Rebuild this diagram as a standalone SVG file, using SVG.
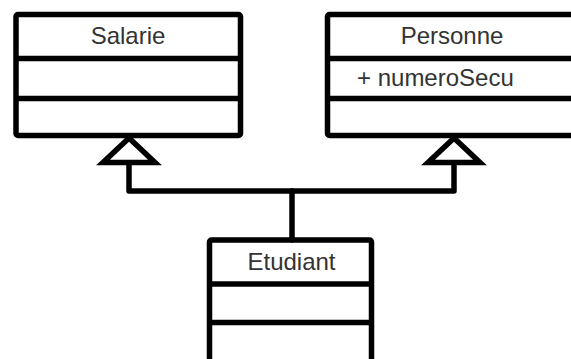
<svg xmlns="http://www.w3.org/2000/svg" width="571" height="359" viewBox="0 0 571 359">
  <style>
    .box { fill: #ffffff; stroke: #000000; stroke-width: 5.5; stroke-linejoin: round; }
    .div { fill: none; stroke: #000000; stroke-width: 5.5; }
    .txt { font-family: "Liberation Sans", Arial, sans-serif; font-size: 24px; fill: #333333; }
    .mid { text-anchor: middle; }
    .conn { fill: none; stroke: #000000; stroke-width: 5.5; stroke-linejoin: round; stroke-linecap: round; }
    .tri { fill: #ffffff; stroke: #000000; stroke-width: 5.5; stroke-linejoin: miter; }
  </style>
  <rect width="571" height="359" fill="#ffffff"/>
  <g id="Salarie">
    <rect class="box" x="16" y="14.5" width="224.5" height="121" rx="2"/>
    <line class="div" x1="16" y1="58.5" x2="240.5" y2="58.5"/>
    <line class="div" x1="16" y1="98.5" x2="240.5" y2="98.5"/>
    <text class="txt mid" x="128" y="43.5">Salarie</text>
  </g>
  <g id="Personne">
    <rect class="box" x="327.5" y="14.5" width="252" height="121" rx="2"/>
    <line class="div" x1="327.5" y1="58.5" x2="579.5" y2="58.5"/>
    <line class="div" x1="327.5" y1="98.5" x2="579.5" y2="98.5"/>
    <text class="txt mid" x="452" y="43.5">Personne</text>
    <text class="txt" x="357" y="85.5">+ numeroSecu</text>
  </g>
  <g id="Etudiant">
    <rect class="box" x="209.5" y="240" width="162" height="122" rx="2"/>
    <line class="div" x1="209.5" y1="284" x2="371.5" y2="284"/>
    <line class="div" x1="209.5" y1="322.5" x2="371.5" y2="322.5"/>
    <text class="txt mid" x="291.5" y="270">Etudiant</text>
  </g>
  <g id="connectors">
    <polyline class="conn" points="129,162.5 129,191 454,191 454,162.5"/>
    <line class="conn" x1="292" y1="191" x2="292" y2="240"/>
    <polygon class="tri" points="129,138 155,162.5 103,162.5"/>
    <polygon class="tri" points="454,138 480,162.5 428,162.5"/>
  </g>
</svg>
